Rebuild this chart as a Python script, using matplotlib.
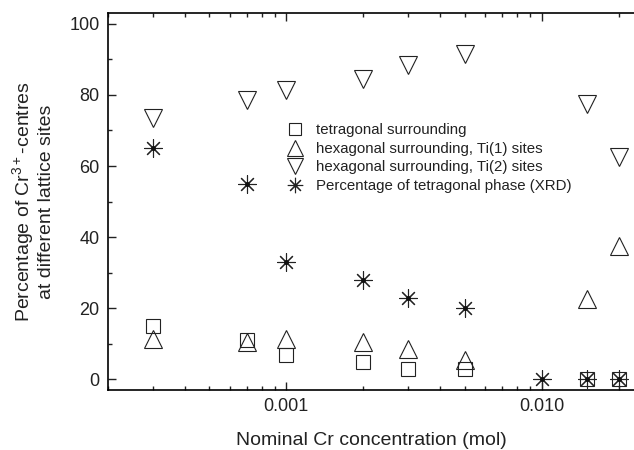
import numpy as np
import matplotlib
matplotlib.use("Agg")
import matplotlib.pyplot as plt
from matplotlib.ticker import FixedLocator, FixedFormatter, MultipleLocator

plt.rcParams['font.family'] = ['Liberation Sans', 'DejaVu Sans']
plt.rcParams['mathtext.fontset'] = 'custom'
plt.rcParams['mathtext.rm'] = 'Liberation Sans'
plt.rcParams['mathtext.default'] = 'regular'

# concentrations (mol)
conc_tet = [0.0003, 0.0007, 0.001, 0.002, 0.003, 0.005, 0.015, 0.020]
tetragonal = [15, 11, 7, 5, 3, 3, 0, 0]

conc_hex = [0.0003, 0.0007, 0.001, 0.002, 0.003, 0.005, 0.015, 0.020]
hex_ti1 = [11.5, 10.5, 11.5, 10.5, 8.5, 5.5, 22.5, 37.5]
hex_ti2 = [73.5, 78.5, 81.5, 84.5, 88.5, 91.5, 77.5, 62.5]

conc_xrd = [0.0003, 0.0007, 0.001, 0.002, 0.003, 0.005, 0.010, 0.015, 0.020]
xrd_phase = [65, 55, 33, 28, 23, 20, 0, 0, 0]

labels = ['tetragonal surrounding',
          'hexagonal surrounding, Ti(1) sites',
          'hexagonal surrounding, Ti(2) sites',
          'Percentage of tetragonal phase (XRD)']

fig = plt.figure(figsize=(6.34, 4.5), dpi=100)
ax = fig.add_axes([0.170, 0.133, 0.830, 0.838])

mk = dict(linestyle='none', markerfacecolor='none', markeredgecolor='#222222',
          markeredgewidth=0.8)
ax.plot(conc_tet, tetragonal, marker='s', markersize=10, label=labels[0], **mk)
ax.plot(conc_hex, hex_ti1, marker='^', markersize=13, label=labels[1], **mk)
ax.plot(conc_hex, hex_ti2, marker='v', markersize=13, label=labels[2], **mk)
ax.plot(conc_xrd, xrd_phase, marker=(8, 2, 0), markersize=13, label=labels[3], **mk)
# small dot in the centre of each asterisk
ax.plot(conc_xrd, xrd_phase, linestyle='none', marker='o', markersize=2.5,
        color='#111111')

ax.set_xscale('log')
ax.set_xlim(0.0002, 0.023)
ax.set_ylim(-3, 103)

ax.xaxis.set_major_locator(FixedLocator([0.001, 0.01]))
ax.xaxis.set_major_formatter(FixedFormatter(['0.001', '0.010']))
ax.yaxis.set_major_locator(MultipleLocator(20))
ax.yaxis.set_minor_locator(MultipleLocator(10))

ax.tick_params(which='both', direction='in', top=True, right=False,
               labelsize=13, colors='#222222', width=1)
ax.tick_params(which='major', length=6, pad=6)
ax.tick_params(which='minor', length=3)
ax.spines['right'].set_visible(False)
for s in ['left', 'bottom', 'top']:
    ax.spines[s].set_linewidth(1.2)

ax.set_xlabel('Nominal Cr concentration (mol)', fontsize=14, color='#222222',
              labelpad=12)
ax.set_ylabel('Percentage of Cr$^{3+}$-centres\nat different lattice sites',
              fontsize=14, color='#222222', labelpad=10)

h, l = ax.get_legend_handles_labels()
ax.legend(h[:4], l[:4], loc='upper left', bbox_to_anchor=(0.32, 0.735),
          frameon=False, fontsize=10.8, handletextpad=0.85, labelspacing=0.3,
          handlelength=1.1, borderpad=0.2, markerscale=0.85,
          labelcolor='#222222')

fig.savefig('out.png', dpi=100)
